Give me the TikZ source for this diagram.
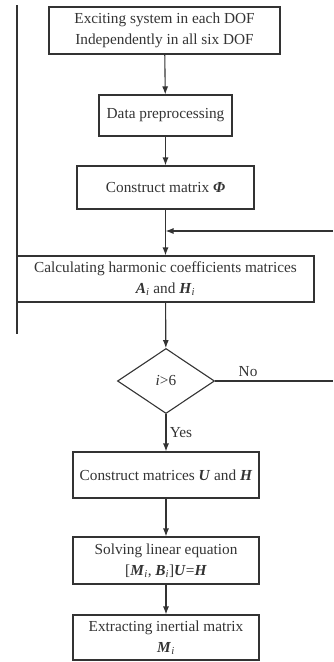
\documentclass[tikz,border=0pt]{standalone}
\usepackage{fontspec}
\setmainfont{Liberation Serif}
\usetikzlibrary{shapes.geometric, arrows.meta}
\tikzset{
    txt/.style={font=\fontsize{15.3}{21}\selectfont, text=black!80},
    stepbox/.style={draw=black!80, line width=1.1pt, inner sep=0pt, align=center, txt},
    decision/.style={draw=black!80, diamond, line width=1.1pt, inner sep=0pt, txt},
    link/.style={draw=black!80, line width=1.1pt},
    flow/.style={link, -{Latex[length=8pt, width=6pt]}},
}
\newcommand{\bi}[1]{\textbf{\textit{#1}}}
\begin{document}
\begin{tikzpicture}[x=1pt, y=-1pt]
    \useasboundingbox (0, 0) rectangle (333, 662);
    \node[stepbox, minimum width=231pt, minimum height=47pt] (excite) at (164.5, 30.5)
        {Exciting system in each DOF\\Independently in all six DOF};
    \node[stepbox, minimum width=133pt, minimum height=41pt] (prep) at (165.5, 115.5)
        {Data preprocessing};
    \node[stepbox, minimum width=177pt, minimum height=43pt] (phi) at (165.5, 187.5)
        {Construct matrix \bi{Φ}};
    \node[stepbox, minimum width=297pt, minimum height=46pt] (harm) at (165.5, 279)
        {Calculating harmonic coefficients matrices\\\bi{A}\textsubscript{\itshape i} and \bi{H}\textsubscript{\itshape i}};
    \node[decision, minimum width=97pt, minimum height=65pt] (check) at (166, 381)
        {\textit{i}>6};
    \node[stepbox, minimum width=186pt, minimum height=46pt] (build) at (166, 475)
        {Construct matrices \bi{U} and \bi{H}};
    \node[stepbox, minimum width=186pt, minimum height=47pt] (solve) at (166, 560.5)
        {Solving linear equation\\{}[\bi{M}\textsubscript{\itshape i}, \bi{B}\textsubscript{\itshape i}]\bi{U}=\bi{H}};
    \node[stepbox, minimum width=186pt, minimum height=45pt] (extract) at (166, 637.5)
        {Extracting inertial matrix\\\bi{M}\textsubscript{\itshape i}};
    \coordinate (topL) at (17, 5);
    \coordinate (botL) at (17, 334);
    \coordinate (backR) at (333, 231);
    \coordinate (noR) at (333, 381);
    \draw[link] (topL) -- (botL);
    \draw[flow] (excite) -- (prep);
    \draw[flow] (prep) -- (phi);
    \draw[flow] (phi) -- (harm);
    \draw[flow] (backR) -- (backR -| phi.south);
    \draw[flow] (harm) -- (check);
    \draw[link] (check.east) -- node[above, txt, pos=0.28] {No} (noR);
    \draw[flow] (check) -- node[right, txt] {Yes} (build);
    \draw[flow] (build) -- (solve);
    \draw[flow] (solve) -- (extract);
\end{tikzpicture}
\end{document}
